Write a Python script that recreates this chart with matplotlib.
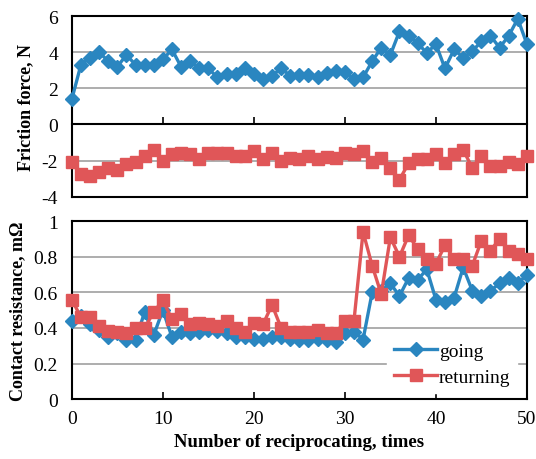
import matplotlib.pyplot as plt

plt.rcParams['font.family'] = ['Liberation Serif', 'DejaVu Serif']

cycles = list(range(51))

friction_going = [1.4, 3.3, 3.7, 4.0, 3.5, 3.2, 3.85, 3.3, 3.3, 3.3, 3.6, 4.15,
                  3.2, 3.5, 3.1, 3.1, 2.6, 2.8, 2.8, 3.1, 2.8, 2.5, 2.7, 3.1,
                  2.7, 2.75, 2.75, 2.6, 2.85, 2.95, 2.9, 2.5, 2.6, 3.5, 4.25,
                  3.85, 5.15, 4.9, 4.5, 3.95, 4.45, 3.1, 4.15, 3.7, 4.05, 4.6,
                  4.9, 4.25, 4.9, 5.85, 4.45]
friction_returning = [-2.1, -2.75, -2.85, -2.65, -2.4, -2.5, -2.2, -2.1, -1.75,
                      -1.4, -2.0, -1.65, -1.55, -1.65, -1.9, -1.6, -1.55, -1.55,
                      -1.75, -1.75, -1.45, -1.9, -1.55, -2.0, -1.85, -1.9, -1.75,
                      -1.9, -1.8, -1.85, -1.6, -1.65, -1.45, -2.05, -1.85, -2.4,
                      -3.05, -2.15, -1.9, -1.9, -1.65, -2.15, -1.65, -1.4, -2.4,
                      -1.75, -2.3, -2.3, -2.1, -2.2, -1.75]

resist_going = [0.44, 0.47, 0.42, 0.39, 0.35, 0.37, 0.33, 0.33, 0.49, 0.36,
                0.50, 0.35, 0.38, 0.37, 0.38, 0.39, 0.385, 0.37, 0.35, 0.35,
                0.34, 0.34, 0.35, 0.35, 0.34, 0.33, 0.33, 0.34, 0.33, 0.32,
                0.37, 0.38, 0.335, 0.60, 0.61, 0.65, 0.58, 0.68, 0.67, 0.73,
                0.56, 0.545, 0.57, 0.74, 0.61, 0.58, 0.61, 0.65, 0.68, 0.65,
                0.70]
resist_returning = [0.56, 0.46, 0.46, 0.41, 0.385, 0.38, 0.37, 0.40, 0.40, 0.49,
                    0.555, 0.45, 0.48, 0.42, 0.43, 0.42, 0.41, 0.44, 0.40, 0.375,
                    0.43, 0.42, 0.53, 0.40, 0.375, 0.375, 0.375, 0.39, 0.37, 0.37,
                    0.44, 0.44, 0.94, 0.75, 0.59, 0.91, 0.80, 0.92, 0.845, 0.79,
                    0.76, 0.865, 0.79, 0.79, 0.75, 0.89, 0.835, 0.90, 0.835, 0.815,
                    0.79]

blue = '#2A86C0'
red = '#E05658'

fig = plt.figure(figsize=(5.36, 4.6), dpi=100)
ax1 = fig.add_axes([0.134, 0.570, 0.849, 0.393])
ax2 = fig.add_axes([0.134, 0.130, 0.849, 0.387])

# --- friction panel ---
ax1.plot(cycles, friction_going, color=blue, lw=2.4, marker='D', ms=7,
         clip_on=False, zorder=3)
ax1.plot(cycles, friction_returning, color=red, lw=2.4, marker='s', ms=8,
         clip_on=False, zorder=3)
ax1.set_xlim(0, 50)
ax1.set_ylim(-4, 6)
ax1.set_yticks([-4, -2, 0, 2, 4, 6])
ax1.set_yticklabels(['-4', '-2', '0', '2', '4', '6'])
for g in [-2, 2, 4]:
    ax1.axhline(g, color='#A0A0A0', lw=1.2, zorder=1)
ax1.spines['bottom'].set_position(('data', 0))
ax1.axhline(-4, color='black', lw=1.5, clip_on=False, zorder=2)
ax1.set_xticks([10, 20, 30, 40])
ax1.tick_params(axis='x', direction='in', length=5, width=1.2, labelbottom=False)
ax1.tick_params(axis='y', length=0, labelsize=14, pad=10)
ax1.set_ylabel('Friction force, N', fontsize=13, fontweight='bold', labelpad=5)

# --- contact resistance panel ---
ax2.plot(cycles, resist_going, color=blue, lw=2.4, marker='D', ms=7,
         clip_on=False, zorder=3, label='going')
ax2.plot(cycles, resist_returning, color=red, lw=2.4, marker='s', ms=8,
         clip_on=False, zorder=4, label='returning')
ax2.set_xlim(0, 50)
ax2.set_ylim(0, 1)
ax2.set_yticks([0, 0.2, 0.4, 0.6, 0.8, 1])
ax2.set_yticklabels(['0', '0.2', '0.4', '0.6', '0.8', '1'])
for g in [0.2, 0.4, 0.6, 0.8]:
    ax2.axhline(g, color='#A0A0A0', lw=1.2, zorder=1)
ax2.set_xticks([0, 10, 20, 30, 40, 50])
ax2.tick_params(axis='x', direction='in', length=5, width=1.2, labelsize=14, pad=8)
ax2.tick_params(axis='y', length=0, labelsize=14, pad=10)
ax2.set_xlabel('Number of reciprocating, times', fontsize=13.5, fontweight='bold')
ax2.set_ylabel('Contact resistance, m\u03A9', fontsize=13, fontweight='bold', labelpad=5)
leg = ax2.legend(loc='lower right', bbox_to_anchor=(1.0, -0.02), frameon=True,
                 fontsize=14, handlelength=2.2, borderpad=0.35, labelspacing=0.45,
                 handletextpad=0.1, fancybox=False)
leg.get_frame().set_edgecolor('white')
leg.get_frame().set_alpha(1)

for ax in (ax1, ax2):
    for s in ax.spines.values():
        s.set_linewidth(1.5)

fig.savefig('out.png', dpi=100)
